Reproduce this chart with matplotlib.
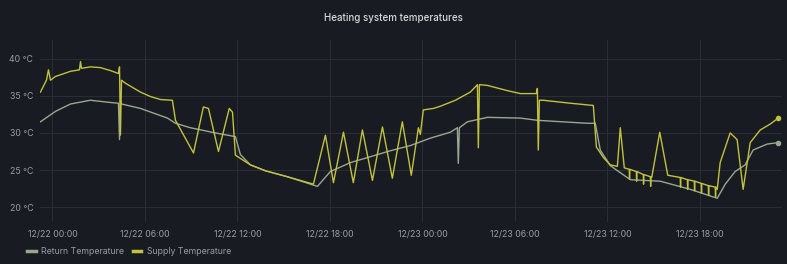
import matplotlib
matplotlib.use('Agg')
import matplotlib.pyplot as plt
import matplotlib.dates as mdates
import pandas as pd

# hours since 12/22 00:00 and temperatures in °C
supply_hours = [
    -0.78, -0.39, -0.26, -0.13, 0.19, 1.17, 1.75, 1.82, 1.88, 2.46, 3.11, 3.76,
    4.28, 4.35, 4.41, 4.48, 4.73, 5.71, 6.36, 7.01, 7.78, 7.98, 9.15,
    9.79, 10.12, 10.77, 11.47, 11.68, 11.87, 12.84, 13.82, 15.24, 16.93,
    17.71, 18.23, 18.88, 19.52, 20.11, 20.76, 21.41, 22.05, 22.70, 23.28,
    23.74, 23.87, 24.06, 24.71, 25.17, 26.14, 27.11, 27.57, 27.63, 27.70,
    28.22, 29.51, 30.36, 31.39, 31.46, 31.52, 31.59, 31.85, 33.60, 35.09,
    35.29, 35.74, 36.19, 36.65, 36.84, 37.10,
    37.42, 37.44, 37.46, 37.88, 37.90, 37.92, 38.33, 38.35, 38.37,
    38.79, 38.81, 38.83, 38.88, 39.40, 39.92,
    40.73, 40.75, 40.77, 41.19, 41.21, 41.23, 41.64, 41.66, 41.68,
    42.09, 42.11, 42.13, 42.55, 42.57, 42.59, 43.00, 43.02, 43.04,
    43.13, 43.32, 43.97, 44.42, 44.81, 45.27, 45.92, 46.57, 47.09,
]
supply_temp = [
    35.5, 37.1, 38.5, 37.1, 37.6, 38.3, 38.5, 39.6, 38.7, 38.9, 38.8, 38.4,
    38.0, 38.9, 29.7, 37.1, 36.7, 35.5, 34.9, 34.5, 34.4, 31.7, 27.3,
    33.5, 33.3, 27.5, 33.3, 32.8, 27.0, 25.7, 24.9, 24.1, 23.1,
    29.7, 23.3, 30.1, 23.3, 30.4, 23.6, 30.8, 23.9, 31.5, 24.3,
    30.7, 29.8, 33.1, 33.3, 33.6, 34.4, 35.5, 36.5, 28.0, 36.5,
    36.4, 35.7, 35.3, 35.3, 36.0, 27.7, 34.4, 34.4, 34.0, 33.7,
    28.1, 26.7, 25.7, 25.5, 30.7, 25.3,
    25.1, 23.8, 25.1, 24.8, 23.5, 24.8, 24.4, 23.1, 24.4,
    24.1, 22.8, 24.1, 24.0, 30.1, 24.3,
    24.0, 22.7, 24.0, 23.7, 22.4, 23.7, 23.5, 22.2, 23.5,
    23.2, 21.9, 23.2, 22.9, 21.6, 22.9, 22.7, 21.4, 22.7,
    22.4, 26.0, 30.0, 29.1, 22.4, 28.7, 30.4, 31.2, 32.0,
]

return_hours = [
    -0.78, 0.19, 1.17, 2.46, 3.76, 4.28, 4.35, 4.41, 4.48, 5.71, 7.46, 7.98,
    8.95, 10.57, 11.87, 12.19, 12.84, 13.82, 15.24, 17.19, 18.03, 19.33,
    20.63, 21.92, 23.22, 24.52, 25.82, 26.27, 26.33, 26.40, 26.92, 28.22,
    30.36, 31.46, 34.70, 35.22, 35.54, 36.19, 37.49, 39.43, 41.38, 43.13,
    43.65, 44.29, 44.94, 45.46, 46.37, 47.09,
]
return_temp = [
    31.5, 32.9, 33.9, 34.4, 34.1, 34.0, 29.1, 34.4, 33.9, 33.3, 32.0, 31.3,
    30.7, 30.0, 29.5, 27.1, 25.7, 24.9, 24.1, 22.8, 24.8, 26.0,
    26.8, 27.6, 28.3, 29.3, 30.1, 30.7, 25.9, 30.7, 31.5, 32.1,
    32.0, 31.7, 31.3, 31.3, 27.7, 25.6, 23.7, 23.5, 22.4, 21.2,
    23.1, 24.8, 25.7, 27.7, 28.5, 28.7,
]

y_ticks = [20, 25, 30, 35, 40]

BG = '#181b21'
GRID = '#2a2d33'
TEXT = '#9a9ca3'
RETURN_COLOR = '#98a891'
SUPPLY_COLOR = '#c2c23c'

plt.rcParams['font.family'] = ['Inter', 'DejaVu Sans']


def to_time(hours):
    return pd.Timestamp('2021-12-22') + pd.to_timedelta(hours, unit='h')


def main():
    fig = plt.figure(figsize=(7.87, 2.64), dpi=100, facecolor=BG)
    ax = fig.add_axes([0.051, 0.159, 0.943, 0.689], facecolor=BG)

    ax.plot(to_time(return_hours), return_temp, color=RETURN_COLOR,
            lw=1.0, label='Return Temperature')
    ax.plot(to_time(supply_hours), supply_temp, color=SUPPLY_COLOR,
            lw=1.0, label='Supply Temperature')
    ax.plot(to_time([return_hours[-1]]), [return_temp[-1]], 'o',
            color=RETURN_COLOR, ms=3)
    ax.plot(to_time([supply_hours[-1]]), [supply_temp[-1]], 'o',
            color=SUPPLY_COLOR, ms=3)

    ax.set_xlim(to_time(-0.8), to_time(47.35))
    ax.set_ylim(18.0, 42.5)
    ax.set_yticks(y_ticks)
    ax.set_yticklabels(['{} °C'.format(v) for v in y_ticks])
    ax.xaxis.set_major_locator(mdates.HourLocator(byhour=[0, 6, 12, 18]))
    ax.xaxis.set_major_formatter(mdates.DateFormatter('%m/%d %H:%M'))

    ax.grid(True, color=GRID, lw=0.8)
    ax.set_axisbelow(True)
    for side in ax.spines.values():
        side.set_visible(False)
    ax.tick_params(length=0, colors=TEXT, labelsize=6.3)
    ax.tick_params(axis='x', pad=6)
    ax.tick_params(axis='y', pad=5)

    fig.text(0.5, 0.932, 'Heating system temperatures', ha='center',
             va='center', color='#d8d9da', fontsize=7, fontweight='medium')

    leg = fig.legend(loc='lower left', bbox_to_anchor=(0.024, 0.0),
                     ncol=2, frameon=False, fontsize=6.3,
                     handlelength=1.0, handletextpad=0.6, columnspacing=1.0)
    for text in leg.get_texts():
        text.set_color(TEXT)
    for line in leg.get_lines():
        line.set_linewidth(2.5)

    fig.savefig('out.png', dpi=100, facecolor=BG)


if __name__ == '__main__':
    main()
